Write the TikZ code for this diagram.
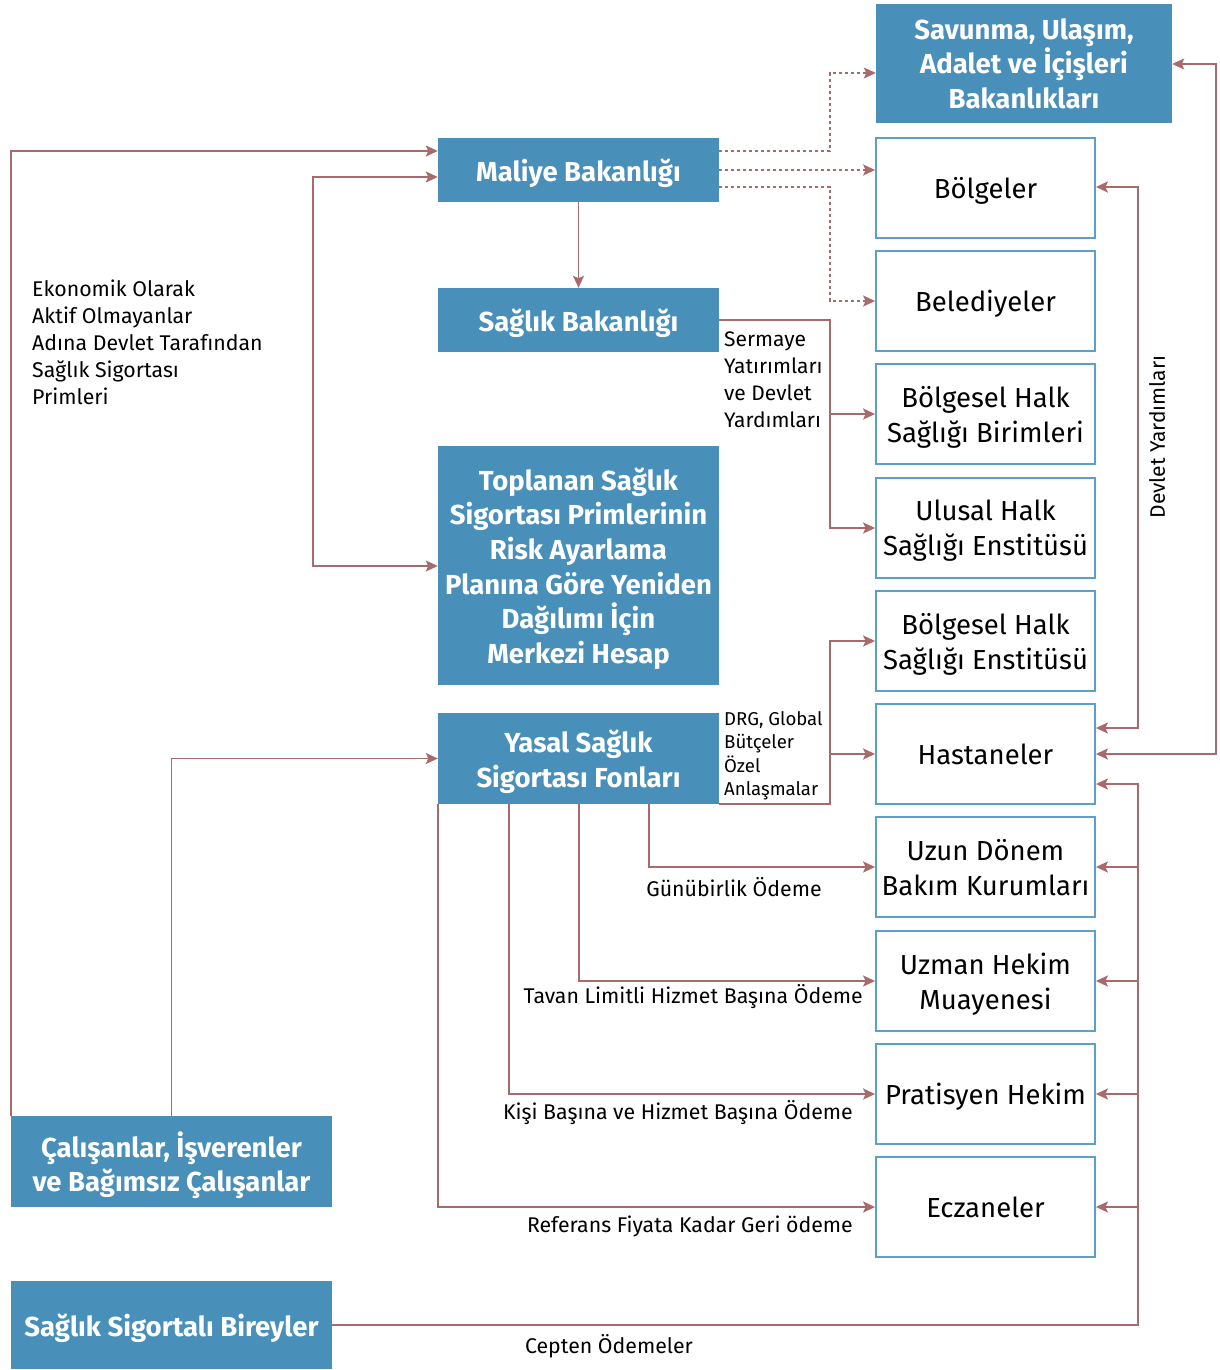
\documentclass[tikz,border=0pt]{standalone}
\usepackage{fontspec}
\setmainfont{Fira Sans}
\usetikzlibrary{arrows.meta}
\definecolor{boxblue}{HTML}{488FBA}
\definecolor{edgeblue}{HTML}{5C9FCB}
\definecolor{flow}{HTML}{A86A6A}
\begin{document}
\begin{tikzpicture}[x=1pt,y=-1pt,
  tip/.tip={Stealth[length=12pt,width=11pt,inset=2.5pt]},
  solidbox/.style={fill=boxblue, text=white, align=center, inner sep=0pt,
    text depth=0pt, font=\bfseries\fontsize{27.5}{34.7}\selectfont},
  framebox/.style={draw=edgeblue, line width=1.8pt, fill=white, align=center,
    inner sep=0pt, minimum width=219pt, minimum height=100pt, text depth=0pt,
    font=\fontsize{27.5}{35}\selectfont},
  link/.style={draw=flow, line width=1.8pt},
  flowline/.style={link, -tip},
  twoway/.style={link, tip-tip},
  dotflow/.style={link, line width=1.6pt, dash pattern=on 3pt off 3pt, -tip},
  lbl/.style={inner sep=0pt, font=\fontsize{21.3}{27}\selectfont, align=left},
]
\useasboundingbox (0,0) rectangle (1219,1370);

% ministries and funds (filled boxes)
\node[solidbox, minimum width=296pt, minimum height=119pt] (sav) at (1024,63.5)
  {Savunma, Ulaşım,\\Adalet ve İçişleri\\Bakanlıkları};
\node[solidbox, minimum width=281pt, minimum height=64pt] (mal) at (578.5,170)
  {Maliye Bakanlığı};
\node[solidbox, minimum width=281pt, minimum height=64pt] (sag) at (578.5,320)
  {Sağlık Bakanlığı};
\node[solidbox, minimum width=281pt, minimum height=239pt] (top) at (578.5,565.5)
  {Toplanan Sağlık\\Sigortası Primlerinin\\Risk Ayarlama\\Planına Göre Yeniden\\Dağılımı İçin\\Merkezi Hesap};
\node[solidbox, minimum width=281pt, minimum height=91pt] (yas) at (578.5,758.5)
  {Yasal Sağlık\\Sigortası Fonları};
\node[solidbox, minimum width=321pt, minimum height=91pt] (cal) at (171.5,1161.5)
  {Çalışanlar, İşverenler\\ve Bağımsız Çalışanlar};
\node[solidbox, minimum width=321pt, minimum height=88pt] (bir) at (171.5,1325)
  {Sağlık Sigortalı Bireyler};

% providers (framed boxes)
\node[framebox] (bol) at (985.5,188) {Bölgeler};
\node[framebox] (bel) at (985.5,301) {Belediyeler};
\node[framebox] (bhb) at (985.5,414) {Bölgesel Halk\\Sağlığı Birimleri};
\node[framebox] (uhe) at (985.5,528) {Ulusal Halk\\Sağlığı Enstitüsü};
\node[framebox] (bhe) at (985.5,641) {Bölgesel Halk\\Sağlığı Enstitüsü};
\node[framebox] (has) at (985.5,754) {Hastaneler};
\node[framebox] (uzd) at (985.5,867) {Uzun Dönem\\Bakım Kurumları};
\node[framebox] (uzh) at (985.5,981) {Uzman Hekim\\Muayenesi};
\node[framebox] (pra) at (985.5,1094) {Pratisyen Hekim};
\node[framebox] (ecz) at (985.5,1207) {Eczaneler};

% contributions into the ministry and the statutory funds
\draw[flowline] (cal.north west) |- (mal.west |- 0,151);
\draw[flowline] (cal.north) |- (yas.west);
\draw[twoway] (mal.west |- 0,177) -| (313,566) -- (top.west |- 0,566);
\node[lbl, anchor=west] (eko) at (32,342.5)
  {Ekonomik Olarak\\Aktif Olmayanlar\\Adına Devlet Tarafından\\Sağlık Sigortası\\Primleri};
\draw[flowline] (mal.south) -- (sag.north);

% budget transfers from the finance ministry
\draw[dotflow] (mal.east |- 0,151) -| (830,73) -- (sav.west |- 0,73);
\draw[dotflow] (mal.east) -- (bol.west |- mal.east);
\draw[dotflow] (mal.east |- 0,187) -| (830,301) -- (bel.west);

% health ministry: investments and subsidies
\draw[link] (sag.east) -| (830,414);
\draw[flowline] (830,414) -- (bhb.west);
\draw[flowline] (830,414) |- (uhe.west);
\node[lbl, anchor=west, font=\fontsize{21}{27}\selectfont] (ser) at (724,379.5)
  {Sermaye\\Yatırımları\\ve Devlet\\Yardımları};

% statutory funds: contracts with providers
\draw[link] (yas.south east) -| (830,754);
\draw[flowline] (830,754) -- (has.west);
\draw[flowline] (830,754) |- (bhe.west);
\node[lbl, anchor=west, font=\fontsize{18.6}{23.5}\selectfont] (drg) at (724,756)
  {DRG, Global\\Bütçeler\\Özel\\Anlaşmalar};

% statutory funds: payments per provider type
\draw[flowline] (yas.south -| 649,0) |- (uzd.west);
\node[lbl] (gun) at (734,887) {Günübirlik Ödeme};
\draw[flowline] (yas.south -| 579,0) |- (uzh.west);
\node[lbl, anchor=east] (tav) at (863,997) {Tavan Limitli Hizmet Başına Ödeme};
\draw[flowline] (yas.south -| 509,0) |- (pra.west);
\node[lbl, anchor=east] (kis) at (853,1113) {Kişi Başına ve Hizmet Başına Ödeme};
\draw[flowline] (yas.south west) |- (ecz.west);
\node[lbl, anchor=east] (ref) at (853,1226) {Referans Fiyata Kadar Geri ödeme};

% out-of-pocket payments
\draw[flowline] (bir.east) -| (1138,784) -- (has.east |- 0,784);
\draw[flowline] (uzd.east -| 1138,0) -- (uzd.east);
\draw[flowline] (uzh.east -| 1138,0) -- (uzh.east);
\draw[flowline] (pra.east -| 1138,0) -- (pra.east);
\draw[flowline] (ecz.east -| 1138,0) -- (ecz.east);
\node[lbl] (cep) at (609,1346) {Cepten Ödemeler};

% state subsidies on the right
\draw[twoway] (bol.east |- 0,187) -- (1138,187) -- (1138,728) -- (has.east |- 0,728);
\node[lbl, rotate=90, font=\fontsize{21}{25}\selectfont] (dev) at (1157,437) {Devlet Yardımları};
\draw[twoway] (sav.east |- 0,64) -- (1216,64) -- (1216,754) -- (has.east);
\end{tikzpicture}
\end{document}
